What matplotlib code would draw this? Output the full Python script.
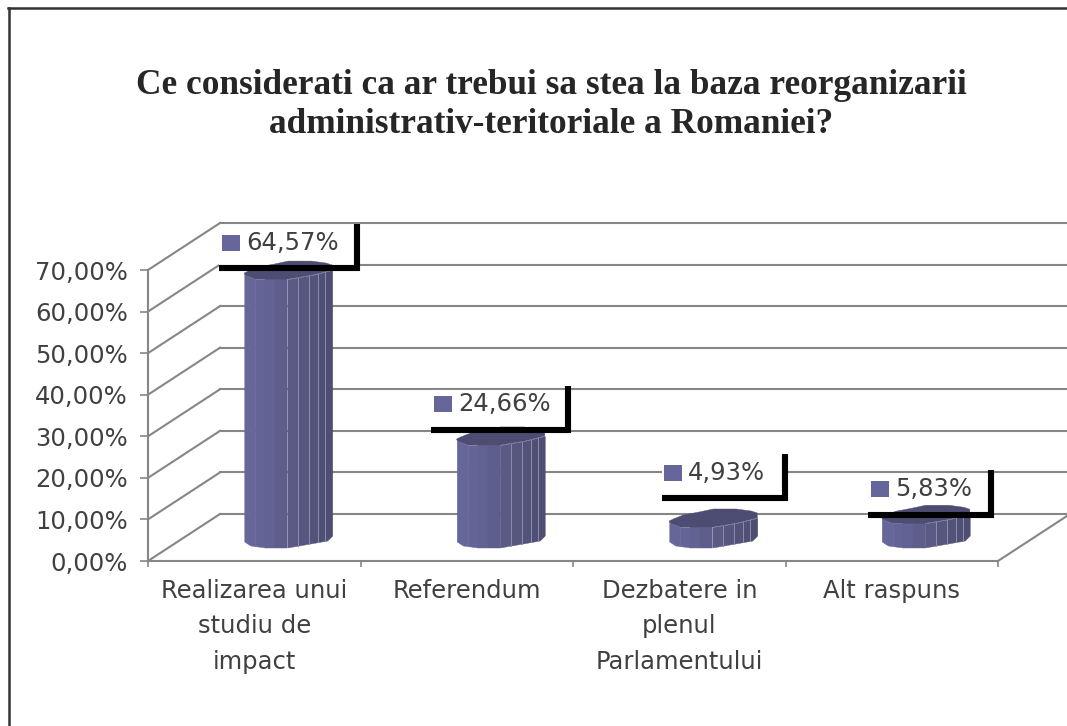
import numpy as np
import matplotlib
matplotlib.use("Agg")
import matplotlib.pyplot as plt
from matplotlib.lines import Line2D
from matplotlib.patches import Rectangle

# Data
categories = ["Realizarea unui\nstudiu de\nimpact", "Referendum",
              "Dezbatere in\nplenul\nParlamentului", "Alt raspuns"]
values = [64.57, 24.66, 4.93, 5.83]
value_labels = ["64,57%", "24,66%", "4,93%", "5,83%"]
y_ticks = [0, 10, 20, 30, 40, 50, 60, 70]
y_tick_labels = ["0,00%", "10,00%", "20,00%", "30,00%", "40,00%", "50,00%", "60,00%", "70,00%"]
title = "Ce considerati ca ar trebui sa stea la baza reorganizarii\nadministrativ-teritoriale a Romaniei?"

W, H = 1067, 726
GRID = "#868686"
TEXT = "#404040"
BLUE = "#66669a"
TOP = "#4d4d73"

fig = plt.figure(figsize=(W / 100, H / 100), dpi=100, facecolor="white")
ax = fig.add_axes([148 / W, (H - 561) / H, 850 / W, 291 / H])
ax.set_xlim(0, 4)
ax.set_ylim(0, 70)
ax.patch.set_visible(False)

# one pixel in data units, the 3d offsets are given in pixels
px = 4 / 850
py = 70 / 291
depth_x = 72 * px
depth_y = 47 * py

# back wall and side wall lines
for v in y_ticks:
    ax.plot([depth_x, 4 + depth_x], [v + depth_y, v + depth_y], color=GRID, lw=1.5, clip_on=False, zorder=1)
    ax.plot([0, depth_x], [v, v + depth_y], color=GRID, lw=1.5, clip_on=False, zorder=1)
ax.plot([4, 4 + depth_x], [0, depth_y], color=GRID, lw=1.5, clip_on=False, zorder=1)

# outline of the uneven cylinder, pixels from its centre
top_x = np.array([-44, -40, -30, -14, 0, 23, 38, 44, 44, 24, 0, -20, -33, -41, -44])
top_y = np.array([4, 2, -2, -5, -8, -8, -6, -4, 1, 6, 10, 10, 10, 7, 5])
front_x = np.array([-44, -41, -33, -20, 0, 24, 44])
front_top = np.array([5, 7, 10, 10, 10, 6, 1])
bottom_x = np.array([-44, -38, -23, -1, 22, 39, 44])
bottom_y = np.array([4, 8, 10, 10, 6, 3, -2])
edges = np.array([-44, -33, -23, -13, -1, 10, 21, 30, 37, 44])
shades = ["#66669a", "#646497", "#626293", "#5e5e8c", "#5a5a85", "#56567f", "#53537a", "#505076", "#4e4e72"]
light_lines = [10, 21, 30, 37]

# label boxes in pixels from the top centre of the cylinder:
# line left, line right, line height, post top, square left, square height
boxes = [(-69, 72, -1, -45, -66, -26),
         (-70, 70, -5, -49, -67, -31),
         (-51, 75, -19, -63, -49, -44),
         (-58, 68, 2, -43, -55, -24)]

for i, (value, label) in enumerate(zip(values, value_labels)):
    xc = i + 0.5 + 34 * px
    base = depth_y / 2
    yc = base + value
    left, right, line_y, post_y, square_x, square_y = boxes[i]

    # white label box, it hides the grid but not the cylinder
    ax.add_patch(Rectangle((xc + left * px, yc - line_y * py), (right - left) * px, (line_y - post_y - 4) * py,
                           fc="white", ec="none", zorder=2, clip_on=False))

    # body, one strip per facet
    for j, shade in enumerate(shades):
        xs = np.linspace(edges[j], edges[j + 1], 8)
        ax.fill_between(xc + xs * px, base - np.interp(xs, bottom_x, bottom_y) * py,
                        yc - np.interp(xs, front_x, front_top) * py,
                        color=shade, lw=0.3, zorder=3, clip_on=False)
    for e in light_lines:
        ax.plot([xc + e * px] * 2, [base - np.interp(e, bottom_x, bottom_y) * py,
                                    yc - np.interp(e, front_x, front_top) * py],
                color="#8c8cb2", lw=0.7, zorder=3.1, clip_on=False)
    ax.fill(xc + top_x * px, yc - top_y * py, color=TOP, lw=0.3, zorder=3.2, clip_on=False)

    # thick black corner of the label
    ax.plot([xc + left * px, xc + right * px], [yc - line_y * py] * 2, color="black", lw=4.4,
            solid_capstyle="butt", zorder=4, clip_on=False)
    ax.plot([xc + (right - 3) * px] * 2, [yc - line_y * py - 3 * py, yc - post_y * py], color="black", lw=4.4,
            solid_capstyle="butt", zorder=4, clip_on=False)

    # legend key and value
    ax.add_patch(Rectangle((xc + square_x * px, yc - (square_y + 8) * py), 18 * px, 16 * py,
                           fc=BLUE, ec="none", zorder=5, clip_on=False))
    ax.text(xc + (square_x + 24) * px, yc - square_y * py, label, color=TEXT, fontsize=17.5,
            ha="left", va="center", zorder=5, clip_on=False)

for side in ["top", "right"]:
    ax.spines[side].set_visible(False)
for side in ["left", "bottom"]:
    ax.spines[side].set_color(GRID)
    ax.spines[side].set_linewidth(1.5)

ax.set_yticks(y_ticks, labels=y_tick_labels)
ax.tick_params(axis="y", length=5.5, width=1.2, color=GRID, labelcolor=TEXT, labelsize=17.5, pad=9)
ax.set_xticks(range(5), labels=[])
ax.tick_params(axis="x", which="major", length=4.5, width=1.2, color=GRID)
ax.set_xticks(np.arange(4) + 0.5, labels=categories, minor=True)
ax.tick_params(axis="x", which="minor", length=0, labelcolor=TEXT, labelsize=17.5, pad=13)
for t in ax.get_xticklabels(minor=True):
    t.set_linespacing(1.6)

fig.text(551 / W, 1 - 105 / H, title, fontfamily="Liberation Serif", fontweight="bold", fontsize=25.4,
         color="#262626", ha="center", va="center", linespacing=1.22)

# chart border, only top and left fall inside the image
fig.add_artist(Line2D([9 / W, 9 / W], [0, 1 - 8 / H], color="#333333", lw=1.8))
fig.add_artist(Line2D([8 / W, 1], [1 - 8 / H, 1 - 8 / H], color="#333333", lw=1.8))

fig.savefig("out.png", dpi=100)
